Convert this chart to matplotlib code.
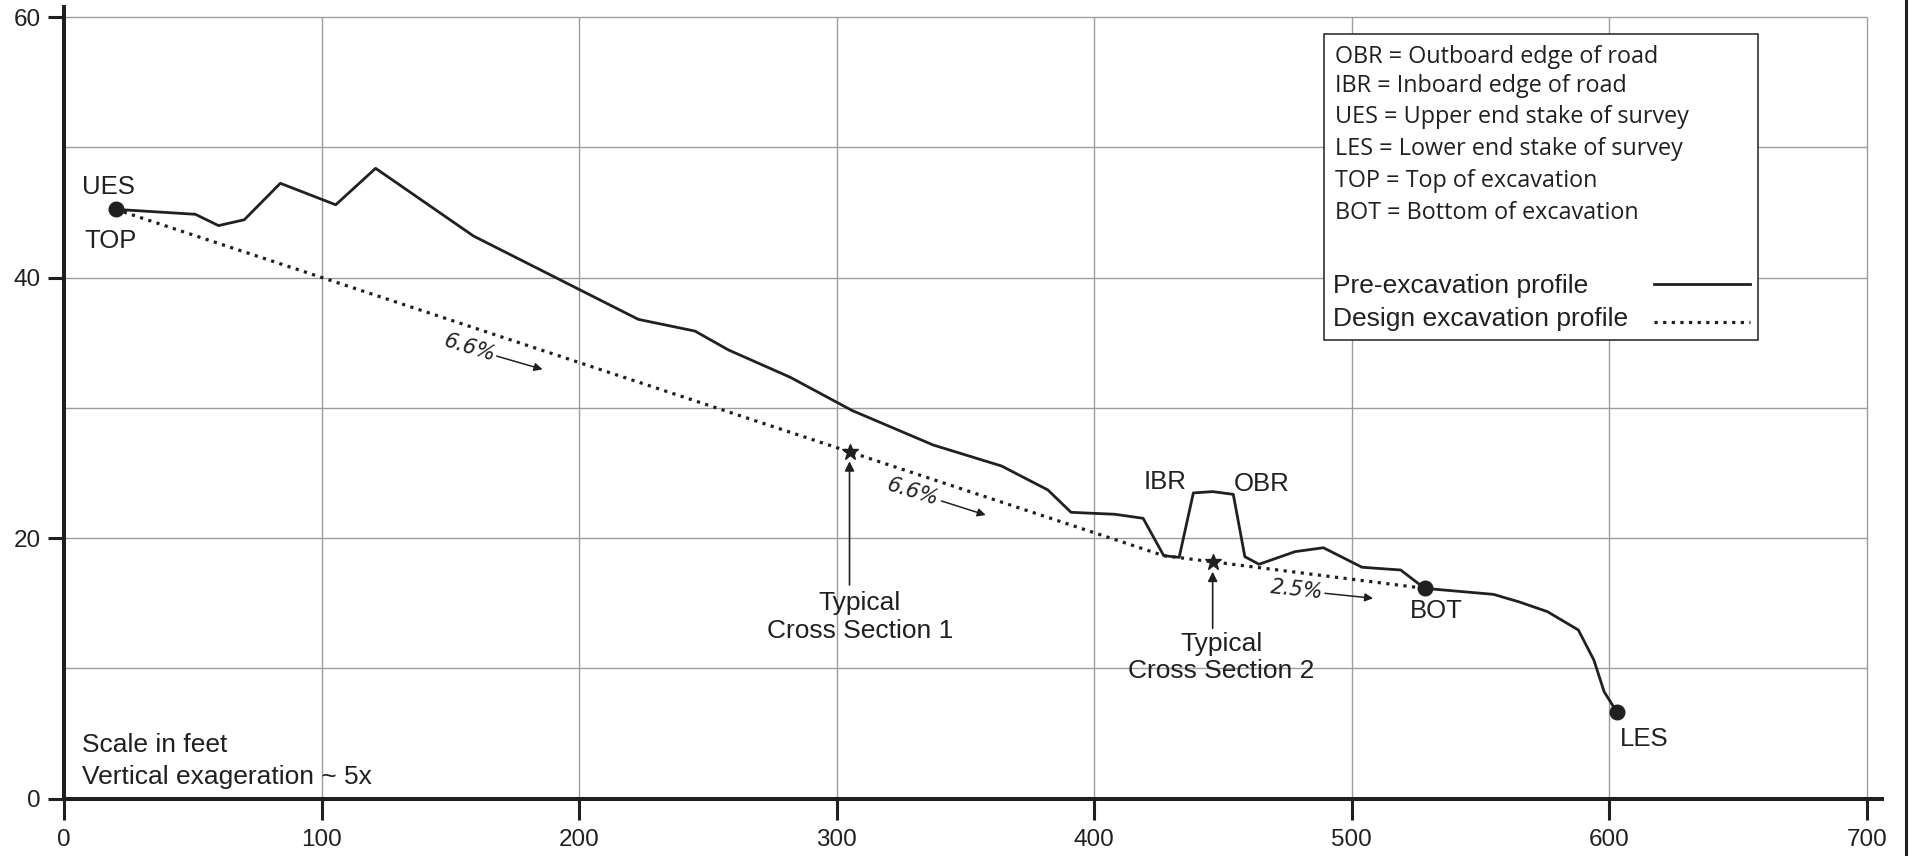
import numpy as np
import matplotlib
matplotlib.use('Agg')
import matplotlib.pyplot as plt
from matplotlib.patches import Rectangle
from matplotlib.lines import Line2D

# ---------------- data ----------------
pre_x = [20, 51, 60, 70, 84, 105.5, 121, 159, 223, 245, 258, 282, 306, 337.5,
         364, 382, 391, 408, 419, 427, 433, 438.5, 446, 454, 458.5, 464, 478,
         489, 504, 519, 528.3, 555, 565, 576, 588, 594, 598, 603]
pre_y = [45.25, 44.87, 44.0, 44.45, 47.25, 45.6, 48.4, 43.2, 36.8, 35.9, 34.45,
         32.35, 29.8, 27.15, 25.54, 23.7, 21.98, 21.83, 21.52, 18.65, 18.52,
         23.47, 23.57, 23.36, 18.57, 17.99, 18.96, 19.26, 17.76, 17.55, 16.14,
         15.68, 15.1, 14.35, 12.94, 10.64, 8.2, 6.62]
design_x = [20, 427, 528.3]
design_y = [45.25, 18.65, 16.14]
section_x = [305, 446]
section_labels = ['Typical\nCross Section 1', 'Typical\nCross Section 2']
slope_labels = ['6.6%', '6.6%', '2.5%']
x_ticks = [0, 100, 200, 300, 400, 500, 600, 700]
y_ticks = [0, 20, 40, 60]
grid_y = [10, 20, 30, 40, 50, 60]
definitions = ['OBR = Outboard edge of road',
               'IBR = Inboard edge of road',
               'UES = Upper end stake of survey',
               'LES = Lower end stake of survey',
               'TOP = Top of excavation',
               'BOT = Bottom of excavation']
series_labels = ['Pre-excavation profile', 'Design excavation profile']
notes = ['Scale in feet', 'Vertical exageration ~ 5x']

INK = '#231f20'
GRID = '#9d9d9d'
HELV = 'Liberation Sans'

fig = plt.figure(figsize=(19.15, 8.56), dpi=100)
ax = fig.add_axes([0.03342, 0.06717, 0.9495, 0.9248])
ax.set_xlim(0, 706)
ax.set_ylim(0, 60.8)
ax.set_facecolor('white')
for s in ['top', 'right']:
    ax.spines[s].set_visible(False)
for s in ['left', 'bottom']:
    ax.spines[s].set_linewidth(2.9)
    ax.spines[s].set_color(INK)
    ax.spines[s].set_capstyle('projecting')

ax.set_xticks(x_ticks)
ax.set_yticks(y_ticks)
ax.tick_params(axis='x', length=15, width=2.2, pad=7, labelsize=17.5, colors=INK)
ax.tick_params(axis='y', length=11.5, width=2.2, pad=5, labelsize=17.5, colors=INK)
for lab in ax.get_xticklabels() + ax.get_yticklabels():
    lab.set_fontfamily(HELV)

# grid limited to the [0,700] x [0,60] field
ax.vlines(x_ticks[1:], 0, max(grid_y), colors=GRID, lw=1.0, zorder=0.5)
ax.hlines(grid_y, 0, max(x_ticks), colors=GRID, lw=1.0, zorder=0.5)

# profiles
l_pre, = ax.plot(pre_x, pre_y, color=INK, lw=2.0, zorder=3)
l_des, = ax.plot(design_x, design_y, color=INK, lw=2.3, linestyle=(0, (1, 1.7)),
                 dash_capstyle='butt', zorder=3)

# key points
ax.plot([pre_x[0], design_x[-1], pre_x[-1]], [pre_y[0], design_y[-1], pre_y[-1]],
        'o', color=INK, ms=10.5, zorder=4)
sec_y = np.interp(section_x, design_x, design_y)
ax.plot(section_x, sec_y, '*', color=INK, ms=12, zorder=4)

# point labels
lab_kw = dict(family=HELV, fontsize=18.5, color=INK, ha='center', va='baseline')
ax.text(17.2, 46.4, 'UES', **lab_kw)
ax.text(17.9, 42.26, 'TOP', **lab_kw)
ax.text(427.6, 23.75, 'IBR', **lab_kw)
ax.text(464.9, 23.64, 'OBR', **lab_kw)
ax.text(532.7, 13.84, 'BOT', **lab_kw)
ax.text(613.4, 4.03, 'LES', **lab_kw)

# cross-section annotations
arrow_kw = dict(arrowstyle='-|>', color=INK, lw=1.2, mutation_scale=14,
                shrinkA=0, shrinkB=0)
sec_text_pos = [(309, 15.9), (449.3, 12.8)]
sec_tail = [16.4, 13.07]
sec_tip = [25.9, 17.42]
for sx, lab, (tx, ty), tail, tip in zip(section_x, section_labels, sec_text_pos,
                                        sec_tail, sec_tip):
    ax.annotate('', xy=(sx, tip), xytext=(sx, tail), arrowprops=arrow_kw, zorder=4)
    ax.text(tx, ty, lab, family=HELV, fontsize=19, color=INK, ha='center',
            va='top', multialignment='center', linespacing=1.18)

# slope annotations
slope_pos = [(157.6, 34.57, -17), (329.7, 23.56, -17), (478.6, 16.05, -6)]
slope_arrows = [((168, 33.98), (185.8, 32.96)),
                ((340.7, 22.85), (357.9, 21.77)),
                ((489.6, 15.76), (508.3, 15.38))]
for lab, (px, py, rot), (a0, a1) in zip(slope_labels, slope_pos, slope_arrows):
    ax.text(px, py, lab, family='DejaVu Sans', style='italic', fontsize=15,
            color=INK, ha='center', va='center', rotation=rot,
            rotation_mode='anchor')
    ax.annotate('', xy=a1, xytext=a0,
                arrowprops=dict(arrowstyle='-|>', color=INK, lw=1.1,
                                mutation_scale=12, shrinkA=0, shrinkB=0))

# notes (bottom left)
ax.text(6.9, 3.6, notes[0], family=HELV, fontsize=19, color=INK, va='baseline')
ax.text(6.9, 1.09, notes[1], family=HELV, fontsize=19, color=INK, va='baseline')

# key box
ax.add_patch(Rectangle((489.2, 35.2), 168.5, 23.52, facecolor='white',
                       edgecolor=INK, lw=1.1, zorder=5))
def_base = [56.51, 54.29, 51.9, 49.43, 47.0, 44.48]
for s, yb in zip(definitions, def_base):
    ax.text(493.4, yb, s, family='Open Sans', fontsize=16.8, color=INK,
            va='baseline', zorder=6)
series_base = [38.8, 36.29]
for s, yb in zip(series_labels, series_base):
    ax.text(492.8, yb, s, family=HELV, fontsize=19, color=INK,
            va='baseline', zorder=6)
leg = ax.legend(handles=[l_pre, l_des], labels=['', ''], loc='upper left',
                bbox_to_anchor=(617.3, 40.3), bbox_transform=ax.transData,
                frameon=False, handlelength=3.64, handletextpad=0.0,
                labelspacing=0.56, borderpad=0, borderaxespad=0,
                prop={'family': HELV, 'size': 19})
leg.set_zorder(6)

# right border rule of the original figure
fig.add_artist(Line2D([0.9953, 0.9953], [0, 1], transform=fig.transFigure,
                      color=INK, lw=2.2))

fig.savefig('out.png', dpi=100, facecolor='white')
